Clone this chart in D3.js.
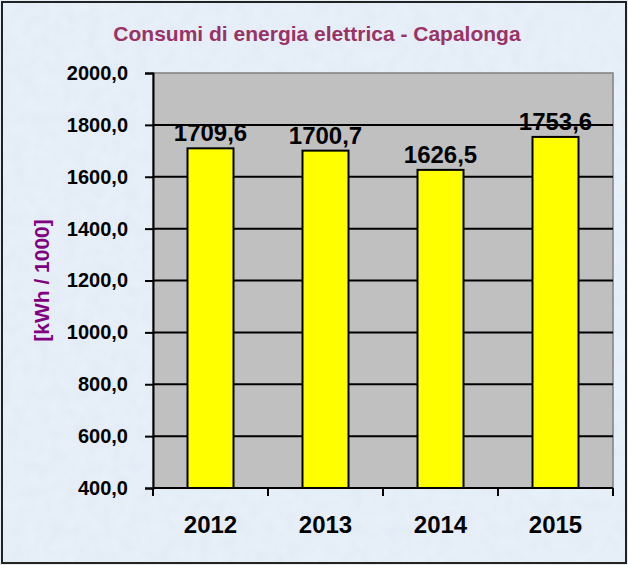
<!DOCTYPE html>
<html>
<head>
<meta charset="utf-8">
<script src="https://cdn.jsdelivr.net/npm/d3@7"></script>
<style>
  body { margin: 0; background: #ffffff; }
  svg { display: block; font-family: "Liberation Sans", Arial, sans-serif; }
</style>
</head>
<body>
<div id="chart"></div>
<script>
// Data
const years = ['2012', '2013', '2014', '2015'];
const consumi = [1709.6, 1700.7, 1626.5, 1753.6];
const yTicks = [400, 600, 800, 1000, 1200, 1400, 1600, 1800, 2000];

const W = 628, H = 565;
const margin = { top: 73, right: 15, bottom: 77, left: 153 };
const width = W - margin.left - margin.right;
const height = H - margin.top - margin.bottom;

const fmt = v => d3.format('.1f')(v).replace('.', ',');

const svg = d3.select('#chart')
  .append('svg')
  .attr('width', W)
  .attr('height', H);

// Textured light blue background
const defs = svg.append('defs');
const filt = defs.append('filter').attr('id', 'tex').attr('x', 0).attr('y', 0).attr('width', '100%').attr('height', '100%');
filt.append('feTurbulence').attr('type', 'fractalNoise').attr('baseFrequency', 0.08).attr('numOctaves', 2).attr('seed', 4).attr('result', 'noise');
filt.append('feColorMatrix').attr('in', 'noise').attr('type', 'matrix')
  .attr('values', '0 0 0 0 0.86  0 0 0 0 0.91  0 0 0 0 0.97  0 0 0 -1.1 0.9');

svg.append('rect')
  .attr('x', 0).attr('y', 0).attr('width', W).attr('height', H)
  .attr('fill', '#e3ecf6');
svg.append('rect')
  .attr('x', 0).attr('y', 0).attr('width', W).attr('height', H)
  .attr('filter', 'url(#tex)')
  .attr('opacity', 0.6);

// Outer border
svg.append('rect')
  .attr('x', 2).attr('y', 2).attr('width', W - 4).attr('height', H - 4)
  .attr('fill', 'none')
  .attr('stroke', '#222')
  .attr('stroke-width', 2);

const g = svg.append('g')
  .attr('transform', `translate(${margin.left},${margin.top})`);

// Scales
const x = d3.scaleBand()
  .domain(years)
  .range([0, width])
  .paddingInner(0.6)
  .paddingOuter(0.3);

const y = d3.scaleLinear()
  .domain([400, 2000])
  .range([height, 0]);

// Plot area
g.append('rect')
  .attr('width', width)
  .attr('height', height)
  .attr('fill', '#c0c0c0')
  .attr('stroke', '#808080')
  .attr('stroke-width', 1.5);

// Gridlines
g.append('g')
  .selectAll('line')
  .data(yTicks.filter(d => d > 400 && d < 2000))
  .join('line')
  .attr('x1', 0)
  .attr('x2', width)
  .attr('y1', d => y(d))
  .attr('y2', d => y(d))
  .attr('stroke', '#000')
  .attr('stroke-width', 2);

// Bars
g.append('g')
  .selectAll('rect')
  .data(years)
  .join('rect')
  .attr('x', d => x(d))
  .attr('y', (d, i) => y(consumi[i]))
  .attr('width', x.bandwidth())
  .attr('height', (d, i) => height - y(consumi[i]))
  .attr('fill', '#ffff00')
  .attr('stroke', '#000')
  .attr('stroke-width', 2);

// Value labels
g.append('g')
  .selectAll('text')
  .data(years)
  .join('text')
  .attr('x', d => x(d) + x.bandwidth() / 2)
  .attr('y', (d, i) => y(consumi[i]) - 7)
  .attr('text-anchor', 'middle')
  .attr('font-size', '24px')
  .attr('font-weight', 'bold')
  .attr('fill', '#000')
  .text((d, i) => fmt(consumi[i]));

// Y axis
const yAxis = d3.axisLeft(y)
  .tickValues(yTicks)
  .tickSize(8)
  .tickPadding(17)
  .tickFormat(fmt);

const yG = g.append('g').call(yAxis);
yG.select('.domain').attr('stroke', '#000').attr('stroke-width', 2);
yG.selectAll('.tick line').attr('stroke', '#000').attr('stroke-width', 2);
yG.selectAll('text')
  .attr('font-size', '20px')
  .attr('font-weight', 'bold')
  .attr('fill', '#000')
  .attr('font-family', '"Liberation Sans", Arial, sans-serif');

// X axis with ticks at band boundaries
const xG = g.append('g').attr('transform', `translate(0,${height})`);
xG.append('line')
  .attr('x1', 0).attr('x2', width)
  .attr('stroke', '#000').attr('stroke-width', 2);
const step = x.step();
xG.selectAll('.xtick')
  .data(d3.range(years.length + 1))
  .join('line')
  .attr('class', 'xtick')
  .attr('x1', i => x(years[0]) - x.paddingOuter() * step + i * step)
  .attr('x2', i => x(years[0]) - x.paddingOuter() * step + i * step)
  .attr('y1', 0).attr('y2', 8)
  .attr('stroke', '#000').attr('stroke-width', 2);
xG.selectAll('.xlabel')
  .data(years)
  .join('text')
  .attr('class', 'xlabel')
  .attr('x', d => x(d) + x.bandwidth() / 2)
  .attr('y', 45)
  .attr('text-anchor', 'middle')
  .attr('font-size', '24px')
  .attr('font-weight', 'bold')
  .attr('fill', '#000')
  .text(d => d);

// Y axis title
svg.append('text')
  .attr('transform', `translate(49,${margin.top + height / 2}) rotate(-90)`)
  .attr('text-anchor', 'middle')
  .attr('font-size', '21px')
  .attr('font-weight', 'bold')
  .attr('fill', '#800080')
  .text('[kWh / 1000]');

// Chart title
svg.append('text')
  .attr('x', 317)
  .attr('y', 41)
  .attr('text-anchor', 'middle')
  .attr('font-size', '21px')
  .attr('font-weight', 'bold')
  .attr('fill', '#993366')
  .text('Consumi di energia elettrica - Capalonga');
</script>
</body>
</html>
